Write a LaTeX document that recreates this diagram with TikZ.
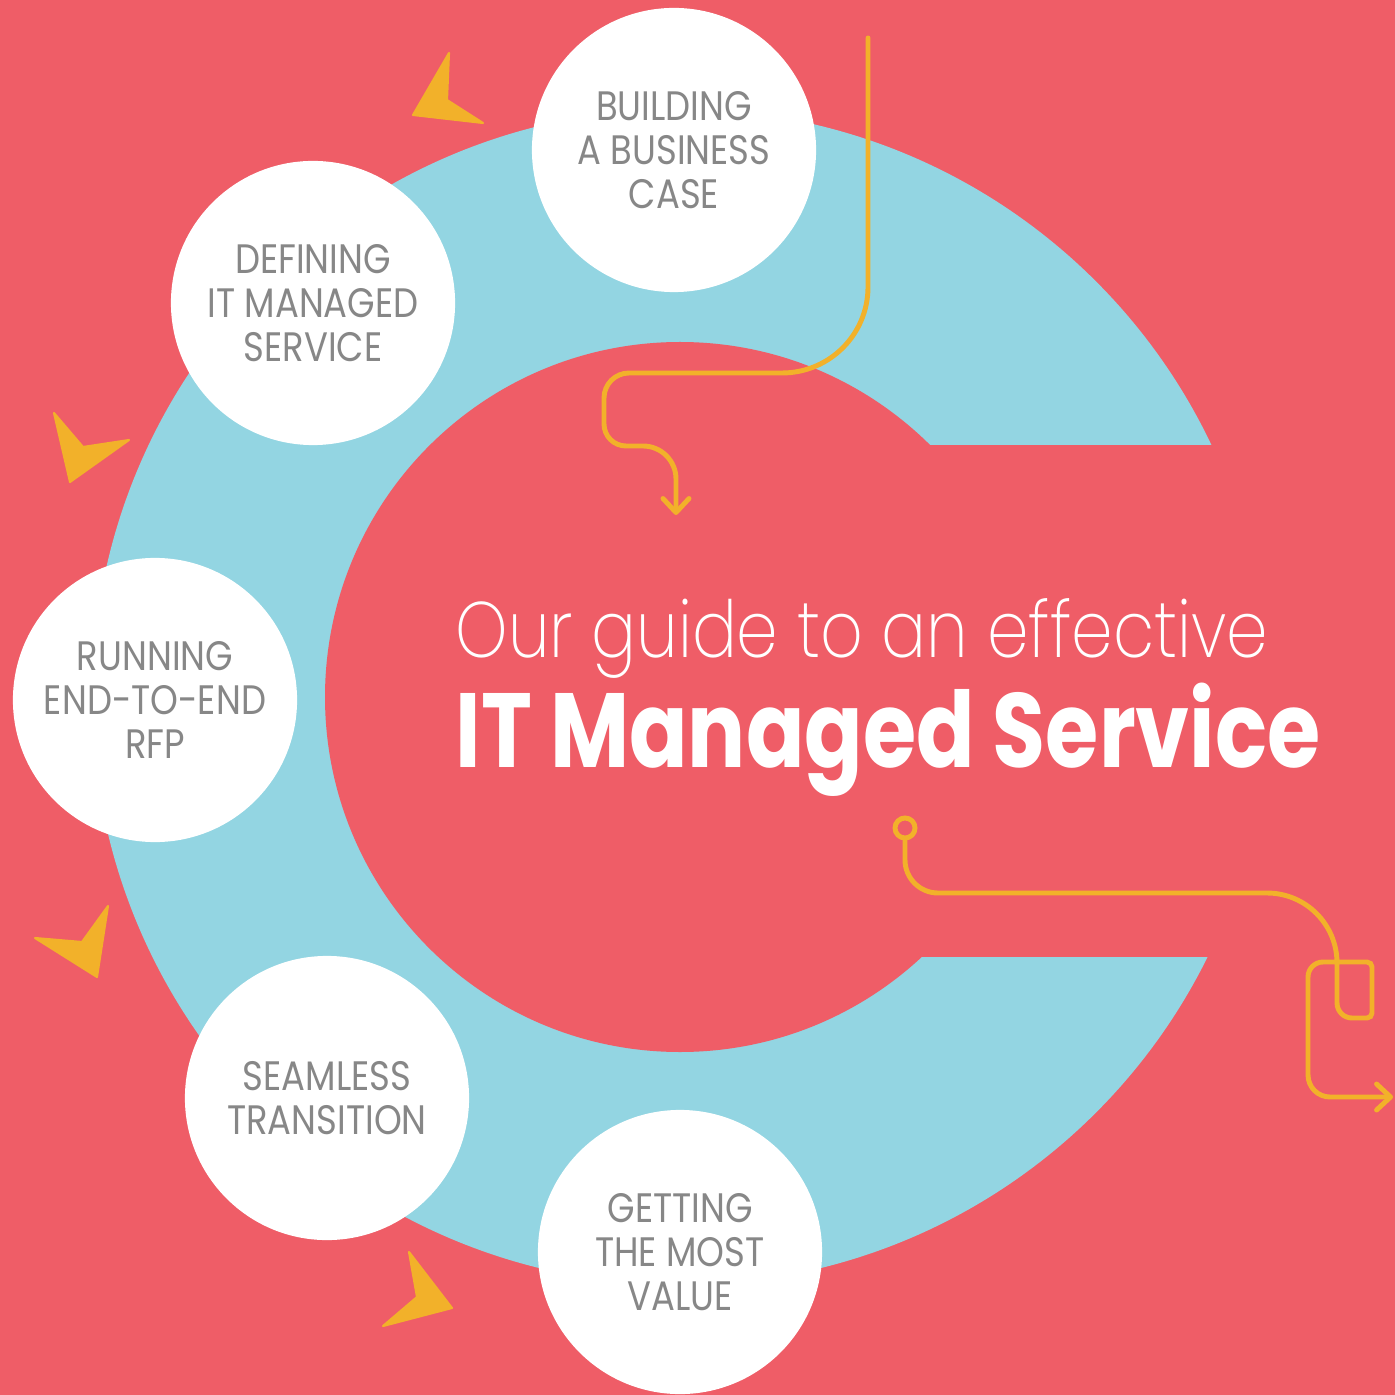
\documentclass[tikz,border=0pt]{standalone}
\usepackage{fontspec}
\setmainfont{Poppins}
\newfontfamily\stepfont[FakeStretch=0.86]{Poppins}
\newfontfamily\leadfont[FakeStretch=0.845]{Poppins ExtraLight}
\newfontfamily\headfont[FakeStretch=0.817]{Poppins Bold}
\usetikzlibrary{arrows.meta}

\definecolor{bgred}{HTML}{EF5D67}
\definecolor{ringblue}{HTML}{93D5E2}
\definecolor{trailgold}{HTML}{F2B12A}
\definecolor{stepgray}{HTML}{878787}

\begin{document}
\begin{tikzpicture}[x=0.01cm, y=-0.01cm,
  stage/.style={circle, fill=white, minimum size=2.84cm, inner sep=0pt, align=center,
    text=stepgray, font=\stepfont\fontsize{11.7}{12.5}\selectfont},
  trail/.style={draw=trailgold, line width=1.4pt, line cap=round},
  chevron/.style={fill=trailgold, draw=trailgold, line width=0.6pt, line join=round}]
\tikzset{tip/.style={-{Straight Barb[length=1.4mm, width=2.6mm, round]}}}
\fill[bgred] (0,0) rectangle (1395,1395);
\useasboundingbox (0,0) rectangle (1395,1395);

% the open ring
\fill[ringblue] (680,697) circle (588);
\fill[bgred] (680,697) circle (355);
\fill[bgred] (680,445) rectangle (1400,957);

% arrow heads round the ring
\foreach \a/\b/\c/\d in {{(449,53)/(413,115)/(483,123)/(447,100)},
                         {(54,413)/(70,482)/(129,440)/(83,447)},
                         {(35,938)/(97,977)/(108,906)/(82,942)},
                         {(409,1252)/(452,1308)/(383,1326)/(417,1297)}} {
  \fill[chevron] \a -- \b -- \c -- \d -- cycle;
}

% steps
\node[stage] (business) at (674,150) {BUILDING\\A BUSINESS\\CASE};
\node[stage] (defining) at (313,303) {DEFINING\\IT MANAGED\\SERVICE};
\node[stage] (rfp) at (155,700) {RUNNING\\END-TO-END\\RFP};
\node[stage] (transition) at (327,1098) {SEAMLESS\\TRANSITION};
\node[stage] (value) at (680,1252) {GETTING\\THE MOST\\VALUE};

% title
\node[anchor=base west, inner sep=0pt, text=white, font=\leadfont\fontsize{22.4}{26}\selectfont]
  (lead) at (455,657) {Our guide to an effective};
\node[anchor=base west, inner sep=0pt, text=white, font=\headfont\fontsize{30}{34}\selectfont]
  (headline) at (455,767) {IT Managed Service};

% trails
\coordinate (drop) at (868,38);
\coordinate (into) at (676,515);
\draw[trail, tip] (drop) [rounded corners=0.86cm] -- (868,373)
  [rounded corners=0.25cm] -- (604,373)
  [rounded corners=0.22cm] -- (604,446)
  [rounded corners=0.33cm] -- (676,446) -- (into);

\node[circle, draw=trailgold, line width=1.4pt, minimum size=0.2cm, inner sep=0pt] (origin) at (905,828) {};
\coordinate (exit) at (1393,1097);
\draw[trail, tip] (origin) [rounded corners=0.33cm] -- (905,893)
  [rounded corners=0.7cm] -- (1337,893)
  [rounded corners=0.15cm] -- (1337,1018)
  [rounded corners=0.05cm] -- (1372,1018) -- (1372,962)
  [rounded corners=0.15cm] -- (1308,962)
  [rounded corners=0.22cm] -- (1308,1097) -- (exit);
\end{tikzpicture}
\end{document}
